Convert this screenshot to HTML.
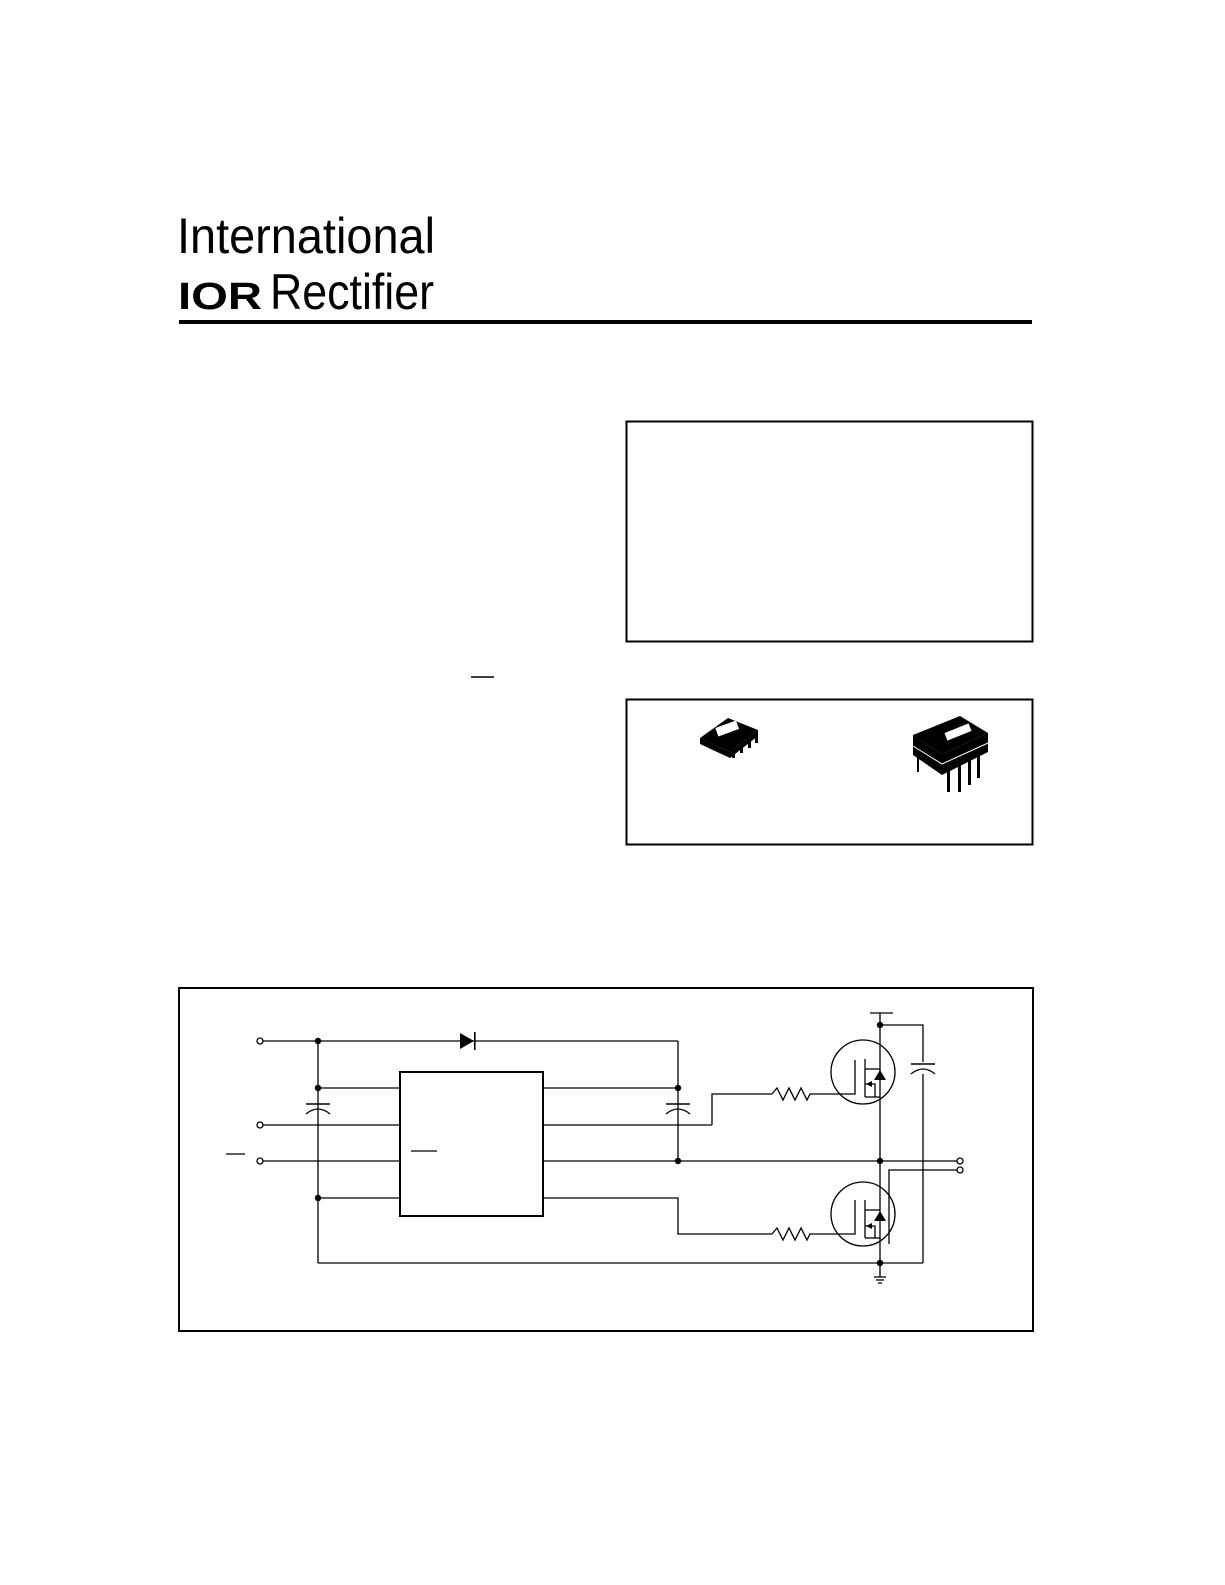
<!DOCTYPE html>
<html><head><meta charset="utf-8"><style>
html,body{margin:0;padding:0;background:#fff;}
svg{display:block;}
</style></head><body>
<svg width="1225" height="1585" viewBox="0 0 1225 1585" xmlns="http://www.w3.org/2000/svg" font-family="Liberation Sans, sans-serif">
<rect width="1225" height="1585" fill="#fff"/>
<!-- logo -->
<text x="177" y="253" font-size="50" font-weight="300" textLength="258" lengthAdjust="spacingAndGlyphs" fill="#000">International</text>
<text x="178" y="309" font-size="38" font-weight="bold" textLength="84" lengthAdjust="spacingAndGlyphs" fill="#000">IOR</text>
<text x="270" y="309" font-size="50" textLength="164" lengthAdjust="spacingAndGlyphs" fill="#000">Rectifier</text>
<rect x="179" y="320" width="853" height="4" fill="#000"/>
<!-- boxes -->
<rect x="626.5" y="421.5" width="406" height="220" fill="none" stroke="#000" stroke-width="2"/>
<rect x="626.5" y="699.5" width="406" height="145" fill="none" stroke="#000" stroke-width="2"/>
<line x1="471" y1="677" x2="494" y2="677" stroke="#000" stroke-width="1.5"/>
<!-- SOIC package -->
<g fill="#000">
<polygon points="700,738 728,718 758,730 730,752"/>
<polygon points="700,738 730,752 730,758 700,744"/>
<polygon points="730,752 758,730 758,736 730,758"/>
<rect x="716" y="724" width="22" height="9" fill="#fff" transform="rotate(-20 727 728)"/>
<rect x="732" y="750" width="3" height="8"/><rect x="740" y="745" width="3" height="8"/><rect x="748" y="740" width="3" height="8"/><rect x="755" y="735" width="3" height="8"/>
</g>
<!-- DIP package -->
<g fill="#000">
<polygon points="913,735 960,716 988,733 942,754"/>
<polygon points="913,735 942,754 942,775 913,755"/>
<polygon points="942,754 988,733 988,752 942,775"/>
<rect x="945" y="728" width="26" height="8" fill="#fff" transform="rotate(-22 958 732)"/>
<line x1="913" y1="746" x2="942" y2="764" stroke="#fff"/>
<line x1="942" y1="764" x2="988" y2="743" stroke="#fff"/>
<rect x="917" y="752" width="2" height="20"/><rect x="958" y="765" width="3" height="27"/><rect x="968" y="760" width="3" height="25"/><rect x="977" y="756" width="3" height="22"/><rect x="947" y="770" width="3" height="22"/>
</g>
<!-- circuit box -->
<rect x="179" y="988" width="854" height="343" fill="none" stroke="#000" stroke-width="2"/>
<g stroke="#000" stroke-width="1.3" fill="none">
<!-- top VCC line -->
<line x1="263" y1="1041" x2="678" y2="1041"/>
<line x1="678" y1="1041" x2="678" y2="1161"/>
<line x1="318" y1="1041" x2="318" y2="1263"/>
<!-- IC -->
<rect x="400" y="1072" width="143" height="144" stroke-width="2"/>
<line x1="318" y1="1088" x2="400" y2="1088"/>
<line x1="263" y1="1125" x2="400" y2="1125"/>
<line x1="263" y1="1161" x2="400" y2="1161"/>
<line x1="318" y1="1198" x2="400" y2="1198"/>
<line x1="411" y1="1151" x2="437" y2="1151"/>
<line x1="226" y1="1154" x2="245" y2="1154"/>
<line x1="543" y1="1088" x2="678" y2="1088"/>
<line x1="543" y1="1125" x2="712" y2="1125"/>
<polyline points="712,1125 712,1094 772,1094"/>
<line x1="543" y1="1161" x2="960" y2="1161"/>
<polyline points="543,1198 678,1198 678,1234 772,1234"/>
<line x1="318" y1="1263" x2="923" y2="1263"/>
<!-- caps -->
<line x1="306" y1="1104" x2="330" y2="1104" stroke-width="1.6"/>
<path d="M306,1114 Q318,1104 330,1114"/>
<line x1="666" y1="1104" x2="690" y2="1104" stroke-width="1.6"/>
<path d="M666,1114 Q678,1104 690,1114"/>
<!-- resistors -->
<polyline points="772,1094 777,1088 783,1100 789,1088 795,1100 801,1088 807,1100 810,1094 830,1094"/>
<polyline points="772,1234 777,1228 783,1240 789,1228 795,1240 801,1228 807,1240 810,1234 830,1234"/>
<!-- MOSFETs -->
<circle cx="863" cy="1072" r="32"/>
<circle cx="863" cy="1214" r="32"/>
<line x1="880" y1="1013" x2="880" y2="1263"/>
<line x1="870" y1="1013" x2="893" y2="1013"/>
<polyline points="880,1025 923,1025 923,1062"/>
<line x1="923" y1="1074" x2="923" y2="1263"/>
<line x1="911" y1="1064" x2="935" y2="1064" stroke-width="1.6"/>
<path d="M911,1074 Q923,1064 935,1074"/>
<polyline points="889,1244 889,1170 957,1170"/>
<line x1="880" y1="1263" x2="880" y2="1277"/>
<line x1="874" y1="1277" x2="886" y2="1277"/>
<line x1="876" y1="1280" x2="884" y2="1280"/>
<line x1="878" y1="1283" x2="882" y2="1283"/>
<!-- upper fet internals -->
<polyline points="830,1094 855,1094 855,1060"/>
<line x1="865" y1="1059" x2="865" y2="1097"/>
<line x1="865" y1="1069" x2="880" y2="1069"/>
<line x1="865" y1="1097" x2="880" y2="1097"/>
<polyline points="865,1084 875,1084 875,1097"/>
<polyline points="830,1234 855,1234 855,1200"/>
<line x1="865" y1="1200" x2="865" y2="1238"/>
<line x1="865" y1="1210" x2="880" y2="1210"/>
<line x1="865" y1="1238" x2="880" y2="1238"/>
<polyline points="865,1226 875,1226 875,1238"/>
<!-- terminals -->
<circle cx="260" cy="1041" r="3" fill="#fff"/>
<circle cx="260" cy="1125" r="3" fill="#fff"/>
<circle cx="260" cy="1161" r="3" fill="#fff"/>
<circle cx="960" cy="1161" r="3" fill="#fff"/>
<circle cx="960" cy="1170" r="3" fill="#fff"/>
</g>
<g fill="#000">
<polygon points="460,1033 460,1049 474,1041"/>
<rect x="474" y="1032" width="1.6" height="18"/>
<polygon points="874,1080 880,1070 886,1080"/>
<polygon points="874,1221 880,1211 886,1221"/>
<polygon points="866,1084 872,1081 872,1087"/>
<polygon points="866,1226 872,1223 872,1229"/>
<circle cx="318" cy="1041" r="3.2"/><circle cx="318" cy="1088" r="3.2"/><circle cx="318" cy="1198" r="3.2"/>
<circle cx="678" cy="1088" r="3.2"/><circle cx="678" cy="1161" r="3.2"/>
<circle cx="880" cy="1025" r="3.2"/><circle cx="880" cy="1161" r="3.2"/><circle cx="880" cy="1263" r="3.2"/>
</g>
</svg>
</body></html>
